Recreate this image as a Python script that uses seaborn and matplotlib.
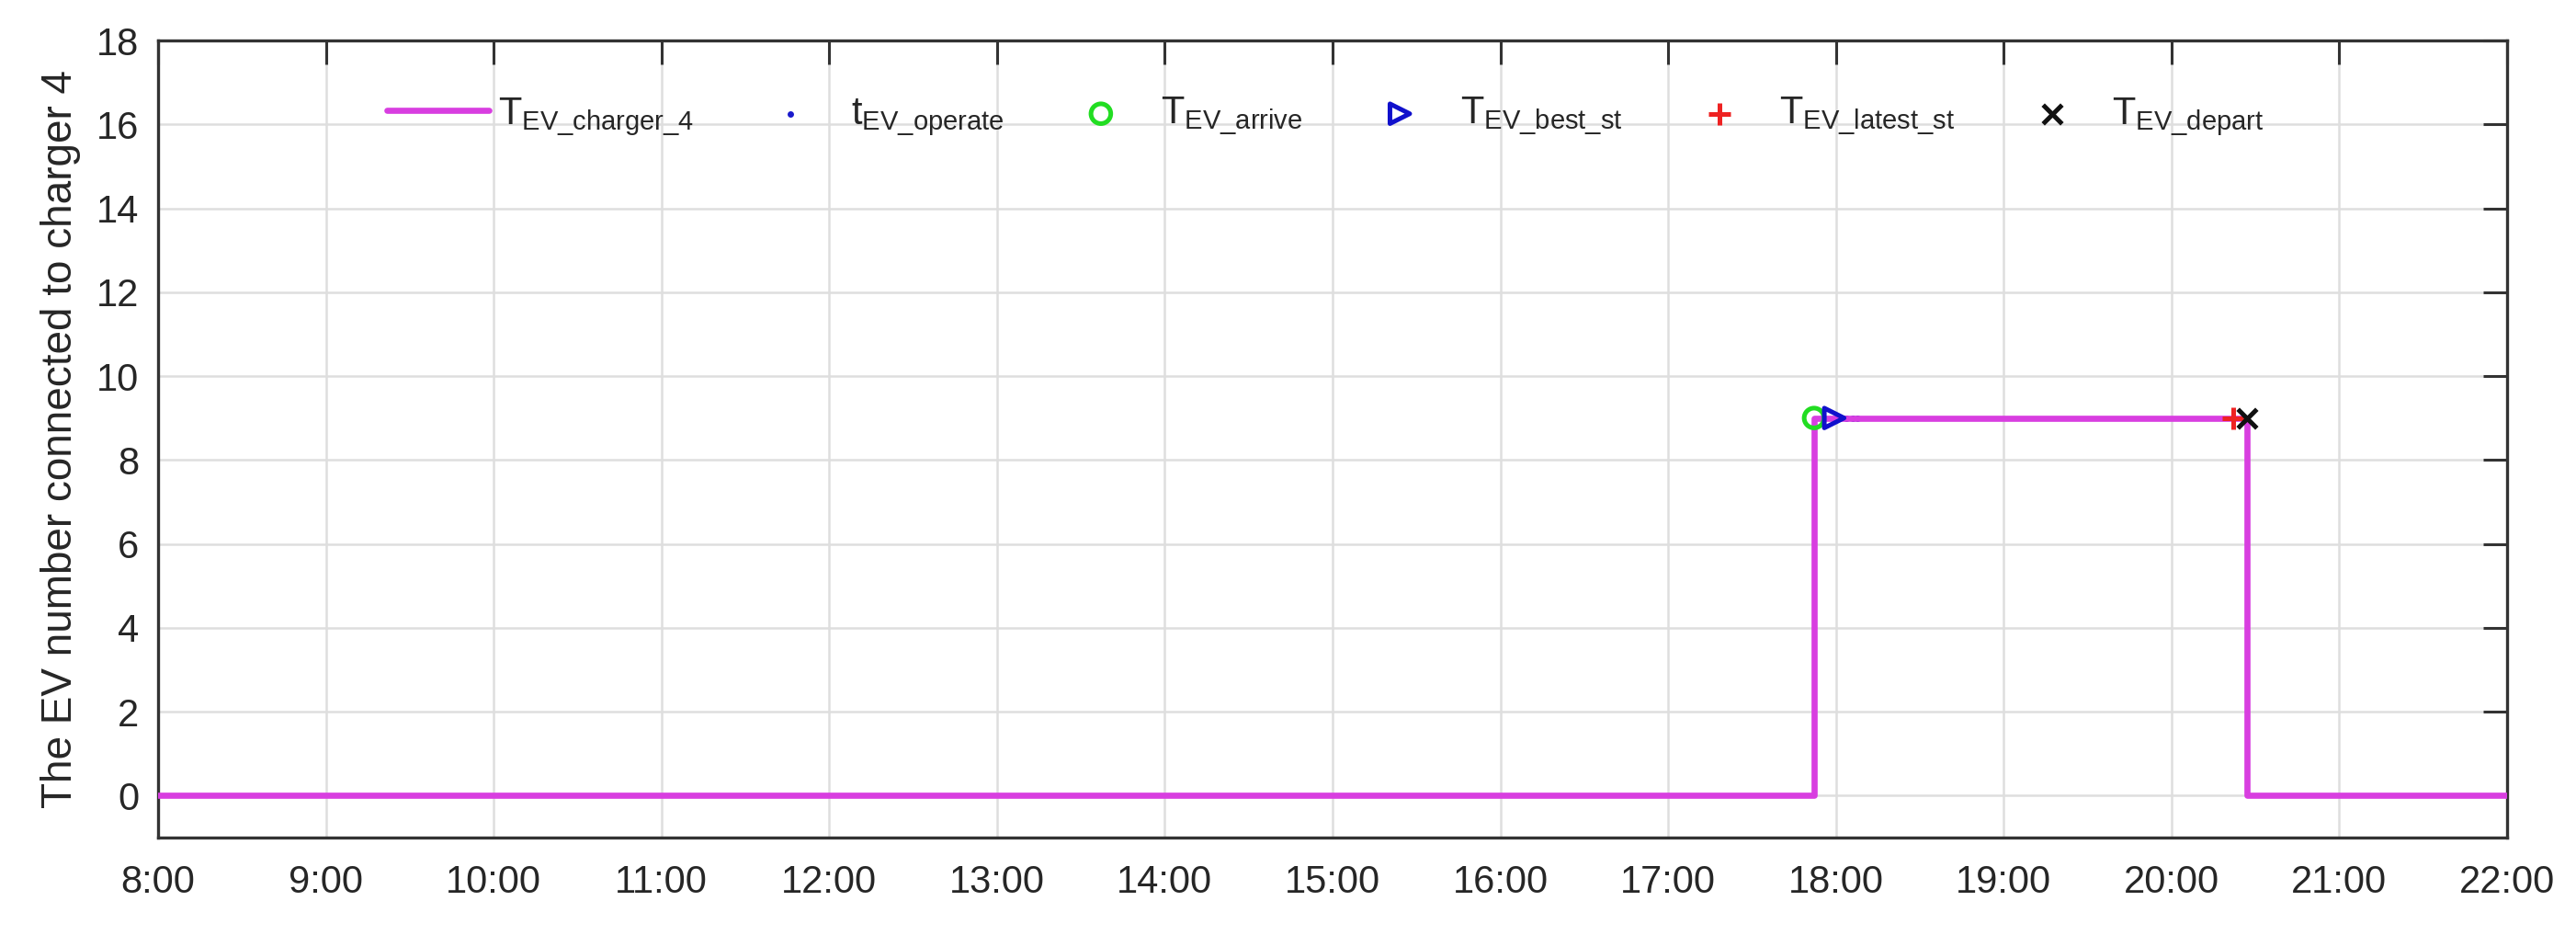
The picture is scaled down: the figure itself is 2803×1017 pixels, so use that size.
import matplotlib
matplotlib.use("Agg")
import matplotlib.pyplot as plt
import seaborn as sns
import pandas as pd

# charger 4 occupancy (hours of day, EV number), step-post
step_hours = [8.0, 17.87, 20.45, 22.0]
step_ev    = [0, 9, 0, 0]

# event markers (hour, EV number)
operate_hours  = [18.02, 18.06, 18.10, 18.13]
operate_ev     = [9, 9, 9, 9]
arrive_hours   = [17.87]
arrive_ev      = [9]
best_st_hours  = [17.99]
best_st_ev     = [9]
latest_hours   = [20.37]
latest_ev      = [9]
depart_hours   = [20.45]
depart_ev      = [9]

hour_ticks  = list(range(8, 23))
hour_labels = [f"{h}:00" for h in hour_ticks]
ev_ticks    = list(range(0, 19, 2))

sns.set_style("white")
plt.rcParams["font.family"] = ["Liberation Sans", "DejaVu Sans"]
plt.rcParams["mathtext.default"] = "regular"

fig = plt.figure(figsize=(14.015, 5.085), dpi=200)
ax = fig.add_axes([0.0614, 0.1043, 0.9118, 0.8524])

df = pd.DataFrame({"hour": step_hours, "ev": step_ev})
sns.lineplot(data=df, x="hour", y="ev", drawstyle="steps-post", color="#d83ee0",
             linewidth=2.4, ax=ax, label=r"T$_{EV\_charger\_4}$", zorder=3)

sns.scatterplot(x=operate_hours, y=operate_ev, marker=".", color="#1a1acc", s=25,
                linewidth=0, ax=ax, label=r"t$_{EV\_operate}$", zorder=2)
ax.scatter(arrive_hours, arrive_ev, marker="o", facecolors="none", edgecolors="#22dd22",
           s=60, linewidths=1.8, label=r"T$_{EV\_arrive}$", zorder=4)
ax.scatter(best_st_hours, best_st_ev, marker=">", facecolors="none", edgecolors="#1010cc",
           s=60, linewidths=1.8, label=r"T$_{EV\_best\_st}$", zorder=4)
ax.scatter(latest_hours, latest_ev, marker="+", color="#ee2222",
           s=70, linewidths=1.8, label=r"T$_{EV\_latest\_st}$", zorder=4)
ax.scatter(depart_hours, depart_ev, marker="x", color="#111111",
           s=55, linewidths=1.8, label=r"T$_{EV\_depart}$", zorder=5)

ax.set_xlim(8, 22)
ax.set_ylim(-1, 18)
ax.set_xticks(hour_ticks)
ax.set_xticklabels(hour_labels)
ax.set_yticks(ev_ticks)
ax.set_xlabel("")
ax.set_ylabel("The EV number connected to charger 4", fontsize=16.5, color="#262626",
              labelpad=6)
ax.tick_params(axis="both", labelsize=15, colors="#333333", direction="in",
               length=9.5, width=1.1, top=True, right=True, labelcolor="#262626")
ax.tick_params(axis="x", pad=10.5)
ax.tick_params(axis="y", pad=7.5)
ax.grid(True, color="#dedede", linewidth=0.9)
for sp in ax.spines.values():
    sp.set_color("#333333")
    sp.set_linewidth(1.2)

leg = ax.legend(loc="center", bbox_to_anchor=(0.497, 0.905), ncol=6, frameon=False,
                fontsize=15, handlelength=2.66, handletextpad=0.24, columnspacing=1.2,
                markerscale=1.0)

fig.savefig("out.png", dpi=200)
